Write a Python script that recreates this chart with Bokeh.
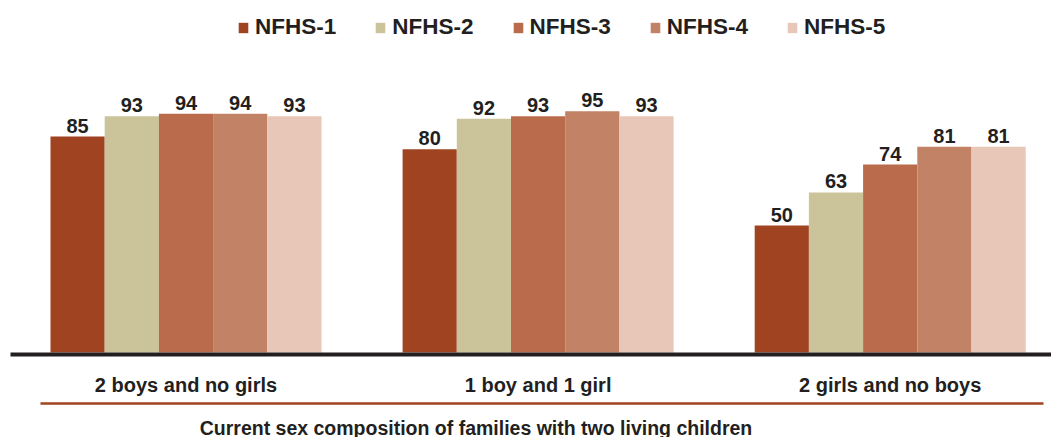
from bokeh.plotting import figure
from bokeh.models import Range1d, Legend, LegendItem, ColumnDataSource
from bokeh.core.properties import value
from bokeh.embed import file_html
from bokeh.resources import INLINE

# ---- data ----
categories = ["2 boys and no girls", "1 boy and 1 girl", "2 girls and no boys"]
series_names = ["NFHS-1", "NFHS-2", "NFHS-3", "NFHS-4", "NFHS-5"]
nfhs1 = [85, 80, 50]
nfhs2 = [93, 92, 63]
nfhs3 = [94, 93, 74]
nfhs4 = [94, 95, 81]
nfhs5 = [93, 93, 81]
x_title = "Current sex composition of families with two living children"

# ---- style / layout ----
colors = ["#A04321", "#CBC49B", "#B96B4B", "#C28266", "#E8C6B8"]
TEXT = "#231F20"
FONT = "Liberation Sans"
W, H = 1051, 437

# mapping helpers (pixel -> data units), layout only
X0_PX, XSTEP = 185.5, 352.1
Y0_PX, YSCALE = 352.0, 2.54
def xd(px):
    return (px - X0_PX) / XSTEP
def yd(py):
    return (Y0_PX - py) / YSCALE

BAR_W = 54.2 / XSTEP

p = figure(width=W, height=H, output_backend="svg", toolbar_location=None,
           x_range=Range1d(xd(0), xd(W)), y_range=Range1d(yd(H), yd(0)),
           min_border=0, min_border_left=0, min_border_right=0,
           min_border_top=0, min_border_bottom=0)
p.axis.visible = False
p.grid.visible = False
p.outline_line_color = None
p.background_fill_color = "white"
p.border_fill_color = "white"

all_series = [nfhs1, nfhs2, nfhs3, nfhs4, nfhs5]
items = []
for k, (name, vals, col) in enumerate(zip(series_names, all_series, colors)):
    xs = [i + (k - 2) * BAR_W for i in range(len(categories))]
    src = ColumnDataSource(dict(x=xs, top=vals, lab=[str(v) for v in vals]))
    r = p.vbar(x="x", top="top", bottom=0, width=BAR_W, source=src,
               fill_color=col, line_color=None)
    p.text(x="x", y="top", text="lab", source=src, y_offset=-11,
           text_align="center", text_baseline="alphabetic",
           text_font=value(FONT), text_font_style="bold",
           text_font_size="20px", text_color=TEXT)
    items.append(LegendItem(label=name, renderers=[r]))

# baseline
p.segment(x0=[xd(10)], y0=[yd(354)], x1=[xd(W)], y1=[yd(354)],
          line_color=TEXT, line_width=4)
# category labels
p.text(x=list(range(len(categories))), y=[yd(384)] * len(categories), text=categories,
       text_align="center", text_baseline="alphabetic",
       text_font=value(FONT), text_font_style="bold",
       text_font_size="20px", text_color=TEXT)
# red rule
p.segment(x0=[xd(40)], y0=[yd(403)], x1=[xd(1043)], y1=[yd(403)],
          line_color="#A04321", line_width=2.5)
# axis title
p.text(x=[xd(475.5)], y=[yd(427)], text=[x_title],
       text_align="center", text_baseline="alphabetic",
       text_font=value(FONT), text_font_style="bold",
       text_font_size="19.5px", text_color=TEXT)

legend = Legend(items=items, orientation="horizontal", location=(237, 397),
                padding=0, margin=0, spacing=38, label_standoff=6,
                glyph_width=12, glyph_height=13, label_height=20,
                label_text_font=FONT, label_text_font_style="bold",
                label_text_font_size="22.5px", label_text_color=TEXT,
                border_line_color=None, background_fill_alpha=0)
p.add_layout(legend)

open("out.html", "w").write(file_html(p, INLINE))
